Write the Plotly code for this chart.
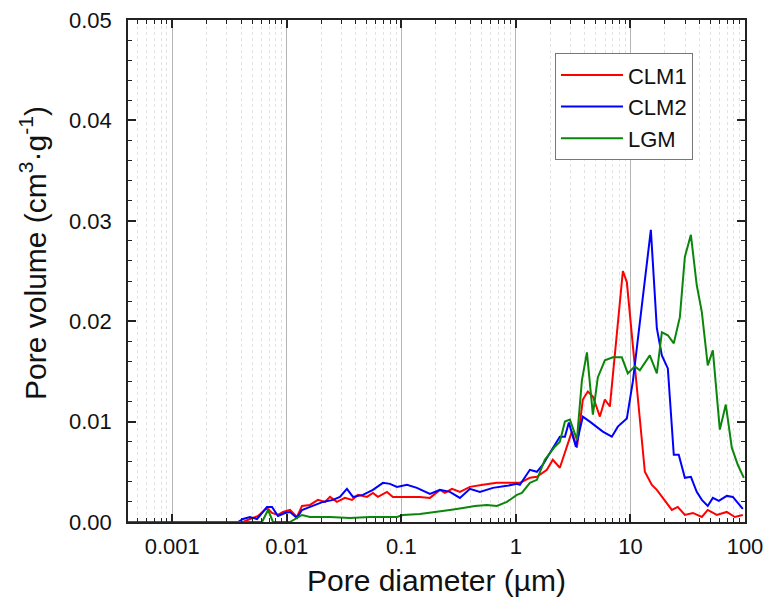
import plotly.graph_objects as go

# ---- data (pore diameter in µm, pore volume in cm3/g) ----
clm1_d = [0.00375, 0.00415, 0.00477, 0.00561, 0.00672, 0.00743, 0.00838, 0.00927, 0.01067, 0.01227,
          0.01358, 0.01593, 0.0187, 0.02155, 0.02382, 0.0274, 0.0322, 0.0371, 0.0418, 0.0501,
          0.0565, 0.0625, 0.0749, 0.0845, 0.1033, 0.1453, 0.1777, 0.2173, 0.240, 0.2766,
          0.3247, 0.397, 0.515, 0.682, 0.887, 1.084, 1.325, 1.525, 1.865, 2.10,
          2.42, 3.08, 3.41, 3.84, 4.25, 4.70, 5.41, 5.98, 6.61, 8.59,
          9.30, 11.37, 13.36, 15.38, 17.0, 19.18, 22.98, 25.9, 29.85, 35.1,
          42.0, 47.3, 56.8, 69.3, 81.5, 95.7]
clm1_v = [0.0, 0.0, 0.0003, 0.0006, 0.0014, 0.0009, 0.0007, 0.0010, 0.0012, 0.0005,
          0.0016, 0.0017, 0.0022, 0.0020, 0.0025, 0.0020, 0.0024, 0.0022, 0.0027, 0.0025,
          0.0029, 0.0025, 0.0030, 0.0025, 0.0025, 0.0025, 0.0024, 0.0032, 0.0029, 0.0033,
          0.0030, 0.0035, 0.0037, 0.0039, 0.0039, 0.0039, 0.0044, 0.0045, 0.0052, 0.0062,
          0.0054, 0.0090, 0.0074, 0.0122, 0.0130, 0.0125, 0.0105, 0.0122, 0.0115, 0.0250,
          0.0239, 0.0138, 0.0050, 0.0037, 0.0032, 0.0024, 0.0012, 0.0015, 0.0007, 0.0009,
          0.0005, 0.0012, 0.0007, 0.0010, 0.0005, 0.0007]

clm2_d = [0.00375, 0.00415, 0.00477, 0.0055, 0.00672, 0.00743, 0.00838, 0.00964, 0.01067, 0.01227,
          0.01358, 0.0166, 0.0207, 0.0253, 0.0291, 0.0335, 0.0378, 0.0462, 0.0565, 0.0691,
          0.0796, 0.0916, 0.112, 0.1368, 0.1777, 0.2173, 0.2655, 0.3247, 0.397, 0.485,
          0.630, 0.834, 1.02, 1.084, 1.325, 1.525, 1.72, 2.06, 2.42, 2.68,
          2.90, 3.34, 3.84, 4.42, 5.09, 5.74, 6.88, 7.76, 9.30, 10.5,
          12.8, 15.07, 17.0, 18.8, 21.2, 23.9, 26.4, 29.85, 33.7, 37.9,
          42.0, 47.3, 52.4, 59.1, 69.3, 78.3, 95.7]
clm2_v = [0.0, 0.0003, 0.0005, 0.0003, 0.0015, 0.0015, 0.0006, 0.0009, 0.0010, 0.0004,
          0.0012, 0.0016, 0.0020, 0.0022, 0.0025, 0.0033, 0.0025, 0.0027, 0.0032, 0.0039,
          0.0038, 0.0035, 0.0037, 0.0034, 0.0028, 0.0032, 0.0030, 0.0024, 0.0033, 0.0030,
          0.0034, 0.0036, 0.0038, 0.0037, 0.0052, 0.0050, 0.0057, 0.0072, 0.0085, 0.0085,
          0.0099, 0.0075, 0.0105, 0.0100, 0.0095, 0.0090, 0.0085, 0.0095, 0.0103, 0.0140,
          0.0223, 0.0291, 0.0193, 0.0166, 0.0153, 0.0067, 0.0067, 0.0044, 0.0045, 0.0030,
          0.0022, 0.0016, 0.0024, 0.0021, 0.0026, 0.0025, 0.0013]

lgm_d = [0.000411, 0.00608, 0.00686, 0.00758, 0.01067, 0.01227, 0.01358, 0.01593, 0.02382, 0.0356,
         0.0532, 0.0916, 0.1033, 0.1453, 0.2046, 0.2655, 0.345, 0.439, 0.558, 0.682,
         0.834, 1.02, 1.128, 1.325, 1.525, 1.79, 2.19, 2.42, 2.68, 2.96,
         3.41, 3.77, 4.17, 4.70, 5.19, 5.98, 7.02, 8.41, 9.49, 10.92,
         12.08, 14.76, 17.0, 18.8, 21.2, 23.9, 27.0, 29.85, 33.7, 37.9,
         42.0, 47.3, 52.4, 60.3, 68.0, 76.7, 86.5, 97.7]
lgm_v = [0.0, 0.0, 0.0012, 0.0, 0.0, 0.0004, 0.0007, 0.0005, 0.0005, 0.0004,
         0.0005, 0.0005, 0.0007, 0.0008, 0.0010, 0.0012, 0.0014, 0.0016, 0.0017, 0.0016,
         0.0020, 0.0027, 0.0029, 0.0039, 0.0042, 0.0062, 0.0075, 0.0080, 0.0100, 0.0102,
         0.0082, 0.0141, 0.0169, 0.0107, 0.0144, 0.0161, 0.0164, 0.0164, 0.0148, 0.0155,
         0.0151, 0.0166, 0.0148, 0.0189, 0.0186, 0.0178, 0.0204, 0.0264, 0.0286, 0.0236,
         0.0209, 0.0156, 0.0171, 0.0092, 0.0117, 0.0074, 0.0057, 0.0044]

x_tick_vals = [0.001, 0.01, 0.1, 1, 10, 100]
x_tick_text = ["0.001", "0.01", "0.1", "1", "10", "100"]
y_tick_vals = [0.0, 0.01, 0.02, 0.03, 0.04, 0.05]
x_title = "Pore diameter (µm)"
y_title = "Pore volume (cm<sup>3</sup>·g<sup>-1</sup>)"

series = [("CLM1", clm1_d, clm1_v, "#FF0000"),
          ("CLM2", clm2_d, clm2_v, "#0000FF"),
          ("LGM", lgm_d, lgm_v, "#0A870A")]

fig = go.Figure()
for name, d, v, c in series:
    fig.add_trace(go.Scatter(x=d, y=v, mode="lines", name=name,
                             line=dict(color=c, width=2)))

font_family = "Liberation Sans, Arial, sans-serif"

fig.update_layout(
    width=764, height=600,
    margin=dict(l=128, r=19, t=20, b=78, autoexpand=False),
    paper_bgcolor="white", plot_bgcolor="white",
    font=dict(family=font_family, color="#111"),
    legend=dict(x=0.692, y=0.934, xanchor="left", yanchor="top",
                bordercolor="#777", borderwidth=1, bgcolor="white",
                font=dict(size=22, family=font_family, color="#111"),
                itemwidth=62, tracegroupgap=0),
    showlegend=True,
)

fig.add_annotation(text=y_title, xref="paper", yref="paper",
                   x=-0.154, y=0.536, xanchor="center", yanchor="middle",
                   textangle=-90, showarrow=False,
                   font=dict(size=30, family=font_family, color="#111"))

fig.update_xaxes(
    type="log", range=[-3.386, 2.0], automargin=False,
    tickvals=x_tick_vals, ticktext=x_tick_text,
    ticks="inside", ticklen=8, tickwidth=1.5, tickcolor="#222",
    showline=True, linewidth=1.5, linecolor="#222", mirror="allticks",
    showgrid=True, gridcolor="#b5b5b5", gridwidth=1,
    minor=dict(ticks="inside", ticklen=4, tickwidth=1, tickcolor="#222",
               dtick="D1", showgrid=True, gridcolor="#e2e2e2", griddash="dot", gridwidth=1),
    tickfont=dict(size=22, family=font_family, color="#111"),
    ticklabelstandoff=4,
    title=dict(text=x_title, font=dict(size=30, family=font_family, color="#111"), standoff=12),
    zeroline=False,
)

fig.update_yaxes(
    range=[0, 0.05], automargin=False,
    tickvals=y_tick_vals, tickformat=".2f",
    ticks="inside", ticklen=8, tickwidth=1.5, tickcolor="#222",
    showline=True, linewidth=1.5, linecolor="#222", mirror="allticks",
    showgrid=False,
    minor=dict(ticks="inside", ticklen=4, tickwidth=1, tickcolor="#222", dtick=0.002, showgrid=False),
    tickfont=dict(size=22, family=font_family, color="#111"),
    ticklabelstandoff=10,
    zeroline=False,
)

fig.write_html("out.html", config={"displayModeBar": False},
               post_script="document.body.style.margin='0px';document.body.style.padding='0px';")
